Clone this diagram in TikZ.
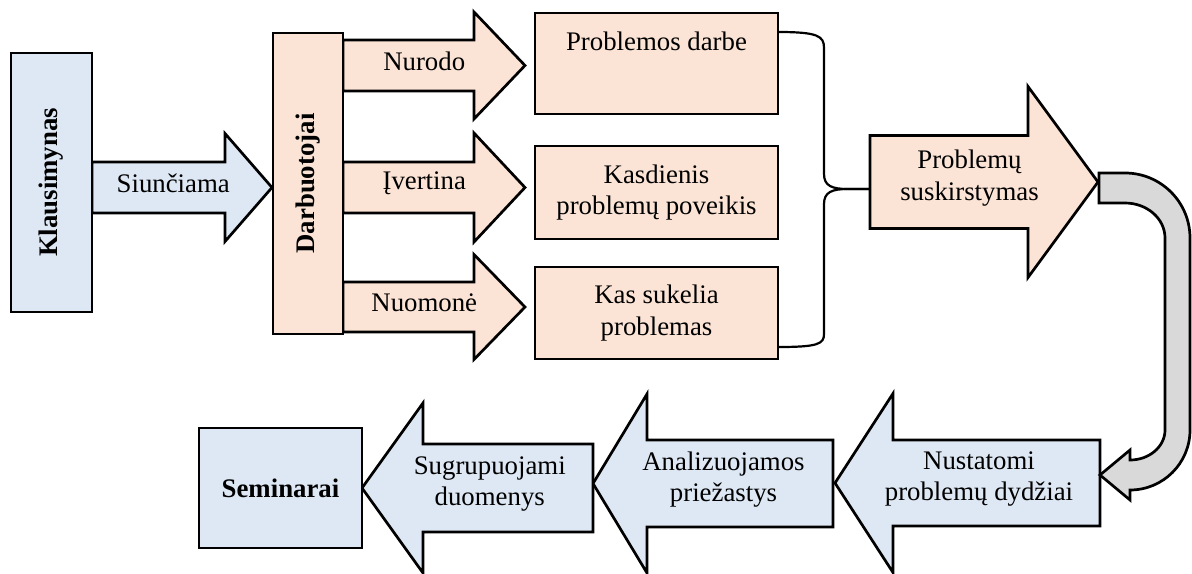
\documentclass[tikz,border=0pt]{standalone}
\usepackage{fontspec}
\setmainfont{Liberation Serif}

\definecolor{boxblue}{HTML}{DEE8F4}
\definecolor{boxorange}{HTML}{FBE4D6}
\definecolor{bandgray}{HTML}{D9D9D9}

\tikzset{
	bluebox/.style={draw, fill=boxblue},
	orangebox/.style={draw, fill=boxorange, minimum width=121.5pt},
	bracket/.style={line width=1.1pt}
}

% block arrow: name, fill, tail x, head x, tip x, mid y, shaft half, head half, text
\newcommand{\blockarrow}[9]{%
	\filldraw[fill=#2] (#3,#6-#7) -- (#4,#6-#7) -- (#4,#6-#8) -- (#5,#6)
		-- (#4,#6+#8) -- (#4,#6+#7) -- (#3,#6+#7) -- cycle;
	\pgfmathsetmacro{\txtx}{(2*#3+#4+#5)/4+3*sign(#5-#3)}
	\node (#1) at (\txtx,#6-4) {#9};
}

\begin{document}
\begin{tikzpicture}[x=0.5pt, y=-0.5pt, line width=1.35pt,
	font=\fontsize{13.4}{15.6}\selectfont,
	every node/.style={align=center, inner sep=0pt}]
	\useasboundingbox (0,0) rectangle (1192,573);

	% arrows
	\blockarrow{siunc}{boxblue}{92}{225}{272}{187.5}{25.5}{54}{Siunčiama}
	\blockarrow{nurodo}{boxorange}{343}{474}{525}{65.5}{25.5}{53.5}{Nurodo}
	\blockarrow{ivert}{boxorange}{343}{474}{525}{187.5}{25.5}{54.5}{Įvertina}
	\blockarrow{nuomone}{boxorange}{343}{474}{525}{307}{25}{52.5}{Nuomonė}
	\blockarrow{skirst}{boxorange}{870}{1028}{1098}{182}{46.5}{95.5}{Problemų\\suskirstymas}
	\blockarrow{nustat}{boxblue}{1100}{893}{835}{483}{43}{89.5}{Nustatomi\\problemų dydžiai}
	\blockarrow{analiz}{boxblue}{833}{647}{593}{483.5}{43.5}{89.5}{Analizuojamos\\priežastys}
	\blockarrow{grup}{boxblue}{593}{423}{362}{488}{44}{85}{Sugrupuojami\\duomenys}

	% boxes
	\node[bluebox, minimum width=40.5pt, minimum height=129.5pt] (klaus) at (51.5,182.5)
		{\rotatebox{90}{\textbf{Klausimynas}}};
	\node[orangebox, minimum width=35pt, minimum height=150.5pt] (darb) at (308,183.5)
		{\rotatebox{90}{\textbf{Darbuotojai}}};
	\node[orangebox, minimum height=50.5pt] (pdarbe) at (656.5,63.5) {};
	\node[anchor=base] (pdarbetxt) at (656.5,50) {Problemos darbe};
	\node[orangebox, minimum height=46.5pt] (kasd) at (656.5,192.5) {Kasdienis\\problemų poveikis};
	\node[orangebox, minimum height=46pt] (kassuk) at (656.5,313) {Kas sukelia\\problemas};
	\node[bluebox, minimum width=81.5pt, minimum height=60pt] (sem) at (280.5,488) {\textbf{Seminarai}};

	% bracket
	\coordinate (brtop) at (778,32);
	\coordinate (brbot) at (778,347);
	\coordinate (brtip) at (870,189);
	\draw[bracket] (brtop) .. controls (818,32) and (824,36) .. (824,48) -- (824,174)
		.. controls (824,186) and (832,189) .. (848,189) -- (brtip);
	\draw[bracket] (brtip) -- (848,189) .. controls (832,189) and (824,192) .. (824,204)
		-- (824,334) .. controls (824,344) and (818,347) .. (brbot);

	% gray return arrow
	\filldraw[fill=bandgray] (1099,173) -- (1125,173)
		arc[start angle=-90, end angle=0, radius=65] -- (1190,430)
		arc[start angle=0, end angle=90, radius=60] -- (1130,500) -- (1100,475)
		-- (1130,450) -- (1130,460)
		arc[start angle=90, end angle=0, x radius=35, y radius=30] -- (1165,238)
		arc[start angle=0, end angle=-90, x radius=40, y radius=35] -- (1099,203) -- cycle;
\end{tikzpicture}
\end{document}
